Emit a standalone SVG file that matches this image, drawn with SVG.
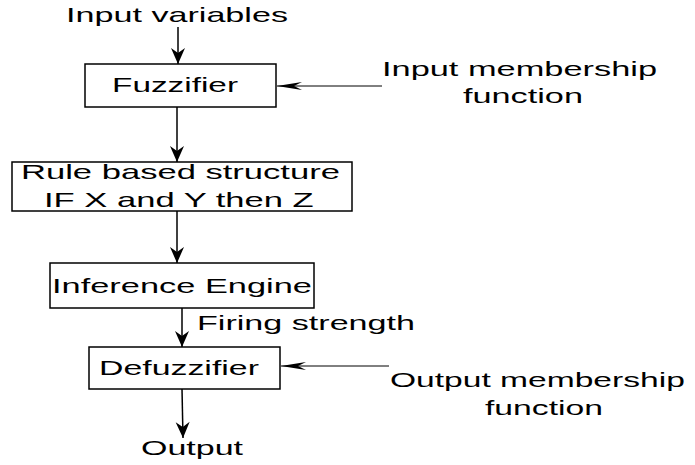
<svg xmlns="http://www.w3.org/2000/svg" width="695" height="465" viewBox="0 0 695 465">
<style>
text{font-family:"Liberation Sans",Arial,sans-serif;font-size:20px;fill:#000}
.box{fill:#fff;stroke:#000;stroke-width:1.5}
.v{stroke:#000;stroke-width:1.5;fill:none}
.h{stroke:#000;stroke-width:1;fill:none}
</style>
<defs>
<marker id="av" markerUnits="userSpaceOnUse" markerWidth="16" markerHeight="14" refX="16" refY="7" orient="auto" overflow="visible">
<path d="M0,0 L16,7 L0,14 L5,7 Z" fill="#000"/>
</marker>
<marker id="ah" markerUnits="userSpaceOnUse" markerWidth="26" markerHeight="8" refX="25" refY="4" orient="auto" overflow="visible">
<path d="M0,0 L25,4 L0,8 L8,4 Z" fill="#000"/>
</marker>
</defs>
<g id="connectors">
<line class="v" x1="178" y1="27" x2="178" y2="64" marker-end="url(#av)"/>
<line class="v" x1="177" y1="107" x2="177" y2="162" marker-end="url(#av)"/>
<line class="h" x1="382" y1="86" x2="277" y2="86" marker-end="url(#ah)"/>
<line class="v" x1="177" y1="211" x2="177" y2="263" marker-end="url(#av)"/>
<line class="v" x1="182" y1="308" x2="182" y2="347" marker-end="url(#av)"/>
<line class="v" x1="182" y1="389" x2="183" y2="438" marker-end="url(#av)"/>
<line class="h" x1="389" y1="366" x2="281" y2="366" marker-end="url(#ah)"/>
</g>
<g id="input-variables"><text transform="translate(66,22) scale(1.707,1)">Input variables</text></g>
<g id="fuzzifier">
<rect class="box" x="85" y="64" width="191" height="43"/>
<text transform="translate(112,92) scale(1.668,1)">Fuzzifier</text>
</g>
<g id="input-membership">
<text transform="translate(382,76) scale(1.718,1)">Input membership</text>
<text transform="translate(463,103) scale(1.713,1)">function</text>
</g>
<g id="rule-base">
<rect class="box" x="12" y="162" width="340" height="49"/>
<text transform="translate(21,179) scale(1.729,1)">Rule based structure</text>
<text transform="translate(44,207) scale(1.729,1)">IF X and Y then Z</text>
</g>
<g id="inference-engine">
<rect class="box" x="50" y="263" width="264" height="45"/>
<text transform="translate(52,293) scale(1.72,1)">Inference Engine</text>
</g>
<g id="firing-strength"><text transform="translate(197,330) scale(1.706,1)">Firing strength</text></g>
<g id="defuzzifier">
<rect class="box" x="89" y="347" width="191" height="42"/>
<text transform="translate(99,375) scale(1.694,1)">Defuzzifier</text>
</g>
<g id="output-membership">
<text transform="translate(390,387) scale(1.68,1)">Output membership</text>
<text transform="translate(485,415) scale(1.685,1)">function</text>
</g>
<g id="output"><text transform="translate(141,455) scale(1.70,1)">Output</text></g>
</svg>
